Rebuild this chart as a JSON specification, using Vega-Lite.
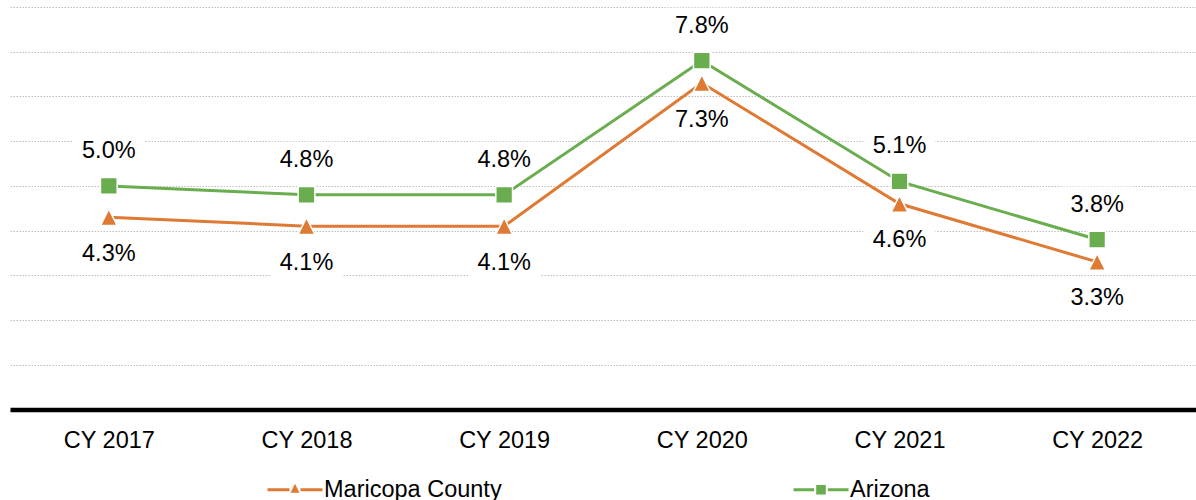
{
  "$schema": "https://vega.github.io/schema/vega-lite/v6.json",
  "width": 1186,
  "height": 402.5,
  "autosize": "none",
  "padding": {"left": 10, "top": 7, "right": 0, "bottom": 90.5},
  "background": "white",
  "config": {"view": {"stroke": null}, "font": "Liberation Sans"},
  "data": {
    "values": [
      {"year": "CY 2017", "series": "Maricopa County", "rate": 0.043},
      {"year": "CY 2018", "series": "Maricopa County", "rate": 0.041},
      {"year": "CY 2019", "series": "Maricopa County", "rate": 0.041},
      {"year": "CY 2020", "series": "Maricopa County", "rate": 0.073},
      {"year": "CY 2021", "series": "Maricopa County", "rate": 0.046},
      {"year": "CY 2022", "series": "Maricopa County", "rate": 0.033},
      {"year": "CY 2017", "series": "Arizona", "rate": 0.050},
      {"year": "CY 2018", "series": "Arizona", "rate": 0.048},
      {"year": "CY 2019", "series": "Arizona", "rate": 0.048},
      {"year": "CY 2020", "series": "Arizona", "rate": 0.078},
      {"year": "CY 2021", "series": "Arizona", "rate": 0.051},
      {"year": "CY 2022", "series": "Arizona", "rate": 0.038}
    ]
  },
  "encoding": {
    "x": {
      "field": "year", "type": "ordinal", "sort": null,
      "scale": {"type": "point", "padding": 0.5},
      "axis": {
        "title": null, "labelAngle": 0, "labelFont": "Liberation Sans", "labelFontSize": 23.5,
        "labelColor": "black", "labelPadding": 19, "ticks": false, "tickSize": 0,
        "domainColor": "black", "domainWidth": 4.5, "grid": false
      }
    },
    "y": {
      "field": "rate", "type": "quantitative",
      "scale": {"domain": [0, 0.09], "nice": false},
      "axis": {
        "title": null, "labels": false, "ticks": false, "domain": false, "grid": true,
        "values": [0, 0.01, 0.02, 0.03, 0.04, 0.05, 0.06, 0.07, 0.08, 0.09],
        "gridColor": "#bdbdbd", "gridDash": [1.5, 1.5], "gridWidth": 1
      }
    }
  },
  "layer": [
    {
      "transform": [{"filter": "datum.series === 'Arizona'"}],
      "mark": {"type": "point", "shape": "M-1,-0.5H1V0.5H-1Z", "size": 5184, "filled": true, "fill": "white", "opacity": 1, "strokeWidth": 0, "yOffset": -35}
    },
    {
      "transform": [{"filter": "datum.series === 'Maricopa County'"}],
      "mark": {"type": "point", "shape": "M-1,-0.5H1V0.5H-1Z", "size": 5184, "filled": true, "fill": "white", "opacity": 1, "strokeWidth": 0, "yOffset": 36.5}
    },
    {
      "mark": {"type": "line", "strokeWidth": 3},
      "encoding": {
        "color": {
          "field": "series", "type": "nominal",
          "scale": {"domain": ["Maricopa County", "Arizona"], "range": ["#DE7A34", "#6AAD4F"]},
          "legend": {
            "orient": "none", "legendX": 256, "legendY": 453.5, "direction": "horizontal",
            "title": null, "padding": 0, "columnPadding": 285, "symbolSize": 3025,
            "labelFont": "Liberation Sans", "labelFontSize": 23.5, "labelColor": "black", "labelOffset": 0,
            "labelLimit": 0, "symbolStrokeWidth": 3,
            "encode": {
              "symbols": {
                "update": {
                  "shape": {"signal": "datum.value === 'Arizona' ? 'M-1,0H-0.25M0.25,0H1M-0.12,-0.12H0.12V0.12H-0.12Z' : 'M-1,0H-0.2M0.2,0H1M-0.075,0.05L0,-0.1L0.075,0.05Z'"},
                  "fill": {"signal": "datum.value === 'Arizona' ? '#6AAD4F' : '#DE7A34'"},
                  "stroke": {"signal": "datum.value === 'Arizona' ? '#6AAD4F' : '#DE7A34'"},
                  "strokeWidth": {"value": 3},
                  "opacity": {"value": 1}
                }
              }
            }
          }
        }
      }
    },
    {
      "mark": {"type": "point", "filled": true, "opacity": 1, "size": 280, "stroke": "white", "strokeWidth": 1.5},
      "encoding": {
        "fill": {"condition": {"test": "datum.series === 'Arizona'", "value": "#6AAD4F"}, "value": "#DE7A34"},
        "shape": {"condition": {"test": "datum.series === 'Arizona'", "value": "square"}, "value": "M0,-1L1,1L-1,1Z"}
      }
    },
    {
      "transform": [{"filter": "datum.series === 'Arizona'"}],
      "mark": {"type": "text", "font": "Liberation Sans", "fontSize": 23.5, "color": "black", "baseline": "middle", "dy": -35},
      "encoding": {"text": {"field": "rate", "type": "quantitative", "format": ".1%"}}
    },
    {
      "transform": [{"filter": "datum.series === 'Maricopa County'"}],
      "mark": {"type": "text", "font": "Liberation Sans", "fontSize": 23.5, "color": "black", "baseline": "middle", "dy": 36.5},
      "encoding": {"text": {"field": "rate", "type": "quantitative", "format": ".1%"}}
    }
  ]
}
